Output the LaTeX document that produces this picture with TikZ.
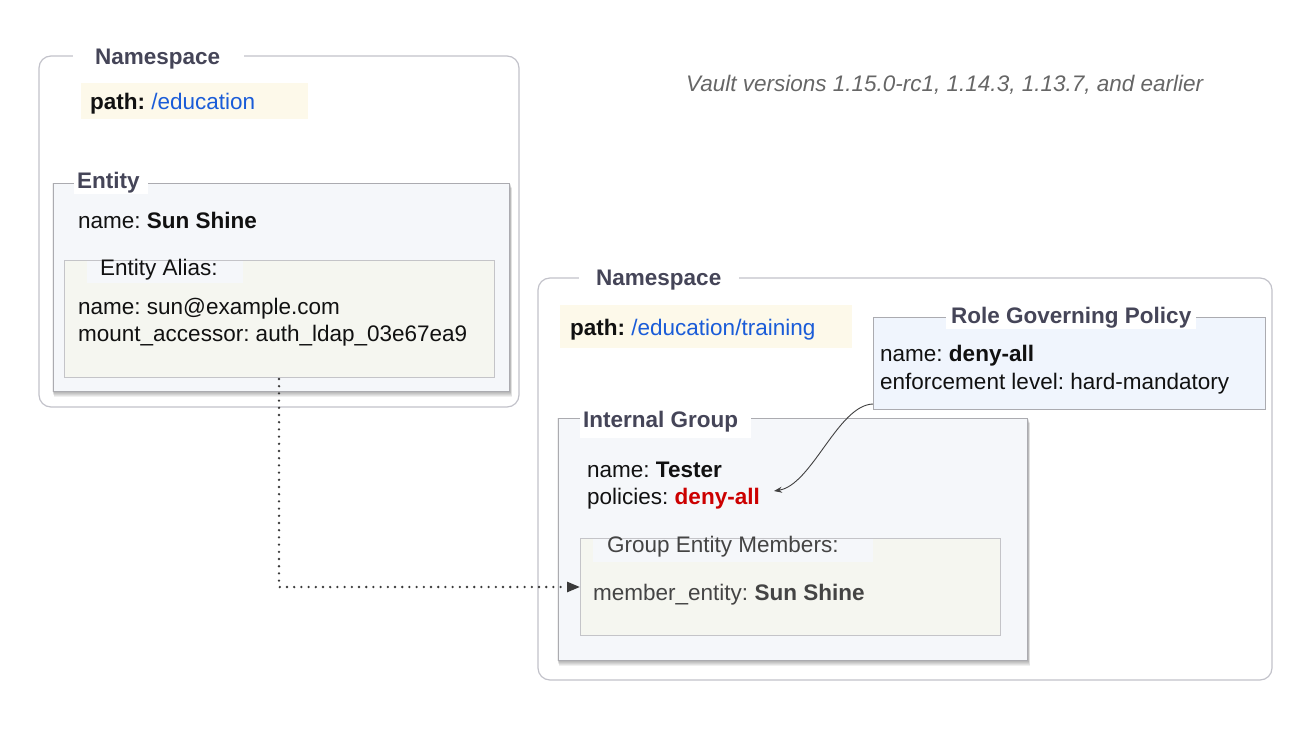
\documentclass[tikz,border=0pt]{standalone}
\usepackage{fontspec}
\setmainfont{Liberation Sans}
\frenchspacing
\usetikzlibrary{arrows.meta}
\definecolor{nsborder}{HTML}{C2C2CA}
\definecolor{boxborder}{HTML}{ABABB0}
\definecolor{entfill}{HTML}{F5F7FA}
\definecolor{aliasfill}{HTML}{F5F6F0}
\definecolor{pathfill}{HTML}{FDF9EA}
\definecolor{rgpfill}{HTML}{F0F5FD}
\definecolor{titlecol}{HTML}{454558}
\definecolor{bluetxt}{HTML}{1A5CD8}
\definecolor{redtxt}{HTML}{CC0000}
\definecolor{graytxt}{HTML}{666666}
\definecolor{txtcol}{HTML}{111111}
\definecolor{memcol}{HTML}{444444}
\definecolor{conncol}{HTML}{3A3A3A}
\tikzset{
  ns/.style={draw=nsborder, line width=1.2pt, rounded corners=12pt, fill=white},
  bx/.style={draw=boxborder, line width=1pt, inner sep=0pt, anchor=north west},
  shadowstrip/.style={fill=black, opacity=0.06},
  txt/.style={inner sep=0pt, anchor=base west, text=txtcol, font=\fontsize{22.5}{27}\selectfont},
  ttl/.style={txt, text=titlecol, font=\fontsize{22.5}{27}\selectfont\bfseries},
  dotconn/.style={draw=conncol, line width=2.6pt, line cap=round, dash pattern=on 0pt off 7.2pt, -{Triangle[length=13pt,width=10pt,fill=conncol]}},
  curveconn/.style={draw=black!75, line width=0.9pt, -{Stealth[length=8pt,width=6pt]}}
}
\begin{document}
\begin{tikzpicture}[x=1pt,y=-1pt]
\useasboundingbox (0,0) rectangle (1312,738);
% Namespace 1
\draw[ns] (39,56) rectangle (519,407);
\fill[white] (73,44) rectangle (244,70);
\node[ttl] (ns1) at (95,65) {Namespace};
\fill[pathfill] (81,83) rectangle (308,119);
\node[txt] (path1) at (90,110) {\textbf{path:} \textcolor{bluetxt}{/education}};
% Entity
\foreach \i in {1,...,6} \fill[shadowstrip] (52+0.3*\i,182+\i) rectangle (510+0.3*\i,391+\i);
\node[bx, fill=entfill, minimum width=456pt, minimum height=208pt] (entity) at (53,183) {};
\fill[white] (74,169) rectangle (148,194);
\node[ttl] (entt) at (77,189) {Entity};
\node[txt] (entname) at (78,229) {name: \textbf{Sun Shine}};
\node[bx, fill=aliasfill, draw=boxborder!70, minimum width=430pt, minimum height=117pt] (alias) at (64,260) {};
\fill[entfill] (87,260.5) rectangle (243,283);
\node[txt] (aliast) at (100,275) {Entity Alias:};
\node[txt] (aliasname) at (78,314) {name: sun@example.com};
\node[txt] (aliasmount) at (78,341) {mount\_accessor: auth\_ldap\_03e67ea9};
% Vault versions
\node[txt, text=graytxt, font=\fontsize{22.5}{27}\selectfont\itshape] (vault) at (686,92) {Vault versions 1.15.0-rc1, 1.14.3, 1.13.7, and earlier};
% Namespace 2
\draw[ns] (538,278) rectangle (1272,680);
\fill[white] (579,266) rectangle (739,292);
\node[ttl] (ns2) at (596,285) {Namespace};
\fill[pathfill] (560,305) rectangle (852,348);
\node[txt] (path2) at (570,335) {\textbf{path:} \textcolor{bluetxt}{/education/training}};
% Role Governing Policy
\node[bx, fill=rgpfill, minimum width=392pt, minimum height=92pt] (rgp) at (873,317) {};
\fill[white] (946,306) rectangle (1196,329);
\node[ttl] (rgpt) at (951,323) {Role Governing Policy};
\node[txt] (rgpname) at (880,361) {name: \textbf{deny-all}};
\node[txt] (rgpenf) at (880,389) {enforcement level: hard-mandatory};
% Internal Group
\foreach \i in {1,...,6} \fill[shadowstrip] (557+0.3*\i,417+\i) rectangle (1028+0.3*\i,660+\i);
\node[bx, fill=entfill, minimum width=469pt, minimum height=242pt] (group) at (558,418) {};
\fill[white] (580,409) rectangle (751,438);
\node[ttl] (groupt) at (583,427) {Internal Group};
\node[txt] (gname) at (587,477) {name: \textbf{Tester}};
\node[txt] (gpol) at (587,504) {policies: \textcolor{redtxt}{\textbf{deny-all}}};
\node[bx, fill=aliasfill, draw=boxborder!70, minimum width=420pt, minimum height=97pt] (gem) at (580,538) {};
\fill[entfill] (593,538.5) rectangle (873,562);
\node[txt, text=memcol] (gemt) at (607,552) {Group Entity Members:};
\node[txt, text=memcol] (gemm) at (593,600) {member\_entity: \textbf{Sun Shine}};
% Connectors
\coordinate (dstart) at (279,379);
\draw[dotconn] (dstart) |- (gem.west);
\coordinate (cend) at (774,491);
\draw[curveconn] ([yshift=6pt]rgp.south west) .. controls (838,405) and (812,485) .. (cend);
\end{tikzpicture}
\end{document}
